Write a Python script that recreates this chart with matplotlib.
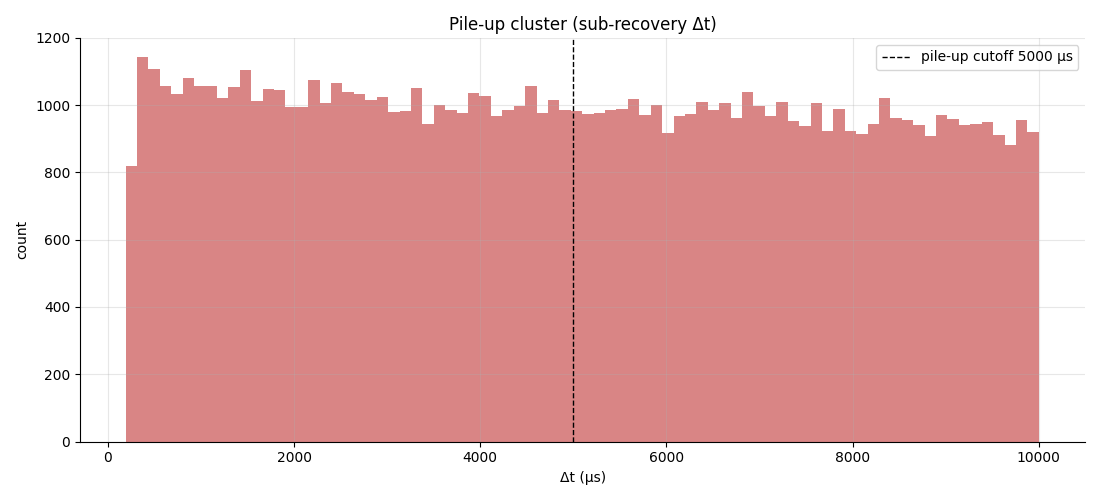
import numpy as np
import matplotlib
matplotlib.use("Agg")
import matplotlib.pyplot as plt

# histogram counts, 80 bins from 200 to 10000 us
bin_lo = 190
bin_hi = 10000
n_bins = 80
counts = [
    818, 1143, 1107, 1057, 1033, 1080, 1057, 1057, 1021, 1054,
    1104, 1012, 1048, 1045, 994, 994, 1074, 1006, 1065, 1039,
    1033, 1015, 1024, 979, 982, 1051, 943, 1000, 985, 976,
    1036, 1027, 967, 985, 997, 1057, 976, 1015, 985, 982,
    973, 976, 985, 988, 1018, 970, 1000, 917, 967, 973,
    1009, 985, 1006, 961, 1039, 997, 967, 1009, 952, 937,
    1006, 922, 988, 922, 914, 943, 1021, 961, 955, 940,
    908, 970, 958, 940, 943, 949, 911, 881, 955, 920,
]
cutoff = 5000

edges = np.linspace(bin_lo, bin_hi, n_bins + 1)
centers = 0.5 * (edges[:-1] + edges[1:])

fig = plt.figure(figsize=(11, 5), dpi=100)
ax = fig.add_axes([0.0727, 0.117, 0.914, 0.807])
ax.hist(centers, bins=edges, weights=counts, color="indianred", alpha=0.75)
ax.axvline(cutoff, color="black", linestyle="--", linewidth=1,
           label=f"pile-up cutoff {cutoff} µs")
ax.set_xlim(-300, 10500)
ax.set_ylim(0, 1200)
ax.set_xlabel("Δt (µs)")
ax.set_ylabel("count")
ax.set_title("Pile-up cluster (sub-recovery Δt)")
ax.grid(True, alpha=0.3)
ax.spines["top"].set_visible(False)
ax.spines["right"].set_visible(False)
ax.legend(loc="upper right")
fig.savefig("out.png", dpi=100)
